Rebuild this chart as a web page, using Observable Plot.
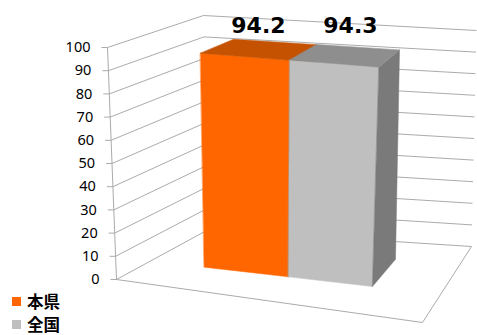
<!DOCTYPE html>
<html>
<head>
<meta charset="utf-8">
<script src="https://cdn.jsdelivr.net/npm/d3@7"></script>
<script src="https://cdn.jsdelivr.net/npm/@observablehq/plot@0.6"></script>
<style>
  html, body { margin: 0; padding: 0; background: #fff; overflow: hidden; }
  #chart { position: relative; width: 477px; height: 335px; overflow: hidden; }
  #chart svg { display: block; }
  .legend { position: absolute; left: 12px; top: 290px; font-family: "Noto Sans CJK JP", sans-serif; font-weight: bold; font-size: 16.5px; line-height: 23px; color: #000; }
  .legend .item { display: flex; align-items: center; height: 23px; }
  .legend .sw { width: 9px; height: 9px; margin-right: 6px; }
</style>
</head>
<body>
<div id="chart"></div>
<script>
// Series shown as side-by-side 3D columns
const series = ["本県", "全国"];
const values = [94.2, 94.3];
const frontColors = ["#FF6600", "#BFBFBF"];
const topColors = ["#C45200", "#8E8E8E"];
const sideColors = ["#A84600", "#7A7A7A"];
const yTicks = [0, 10, 20, 30, 40, 50, 60, 70, 80, 90, 100];
const yMax = 100;

const W = 477, H = 335;

// Screen corners of the plot box (walls + floor) used for the 3D view
const box = {
  flb: [116, 279], flt: [107, 47], frb: [422, 322], frt: [437, 76],
  blb: [208, 229], blt: [203, 15], brb: [471, 246], brt: [476, 30]
};
// Column placement inside the box: horizontal span and depth range
const colStart = 0.185, colWidth = 0.29, depthFront = 0.37, depthBack = 0.76;

const v = d3.scaleLinear([0, yMax], [0, 1]);
const lerp = (a, b, t) => [a[0] + (b[0] - a[0]) * t, a[1] + (b[1] - a[1]) * t];
// (u across, value, w depth) -> screen point
function project(u, val, w) {
  const fb = lerp(box.flb, box.frb, u), bb = lerp(box.blb, box.brb, u);
  const ft = lerp(box.flt, box.frt, u), bt = lerp(box.blt, box.brt, u);
  return lerp(lerp(fb, bb, w), lerp(ft, bt, w), v(val));
}

// Wall gridlines, floor edges and value axis
const lines = [];
for (const t of yTicks) {
  const a = project(0, t, 0), b = project(0, t, 1), c = project(1, t, 1);
  lines.push({x1: a[0], y1: a[1], x2: b[0], y2: b[1]});
  lines.push({x1: b[0], y1: b[1], x2: c[0], y2: c[1]});
}
for (const [p, q] of [[[0, 0, 0], [1, 0, 0]], [[1, 0, 0], [1, 0, 1]], [[0, 0, 0], [0, yMax, 0]]]) {
  const a = project(...p), b = project(...q);
  lines.push({x1: a[0], y1: a[1], x2: b[0], y2: b[1]});
}
const ticks = yTicks.map(t => { const p = project(0, t, 0); return {t, x: p[0], y: p[1]}; });

// Column faces as closed polygons
const faces = [];
values.forEach((val, i) => {
  const u0 = colStart + i * colWidth, u1 = u0 + colWidth;
  const poly = (name, fill, pts) => pts.forEach((p, k) => {
    const s = project(...p);
    faces.push({face: `${series[i]}-${name}`, fill, x: s[0], y: s[1], k});
  });
  poly("front", frontColors[i], [[u0, 0, depthFront], [u1, 0, depthFront], [u1, val, depthFront], [u0, val, depthFront]]);
  poly("side", sideColors[i], [[u1, 0, depthFront], [u1, 0, depthBack], [u1, val, depthBack], [u1, val, depthFront]]);
  poly("top", topColors[i], [[u0, val, depthFront], [u1, val, depthFront], [u1, val, depthBack], [u0, val, depthBack]]);
});

// Value labels sit on one common line above the tallest column front
const labelDepth = 0.2;
const labelPts = values.map((val, i) => project(colStart + (i + 0.5) * colWidth, val, labelDepth));
const labelY = d3.min(labelPts, p => p[1]);
const labels = values.map((val, i) => ({text: val.toFixed(1), x: labelPts[i][0], y: labelY}));

const chart = Plot.plot({
  width: W, height: H,
  margin: 0,
  x: {type: "identity", axis: null},
  y: {type: "identity", axis: null},
  color: {type: "identity"},
  marks: [
    Plot.link(lines, {x1: "x1", y1: "y1", x2: "x2", y2: "y2", stroke: "#ABABAB", strokeWidth: 1}),
    Plot.link(ticks, {x1: d => d.x - 6, x2: "x", y1: "y", y2: "y", stroke: "#ABABAB"}),
    Plot.text(ticks, {x: "x", y: "y", text: d => String(d.t), textAnchor: "end", dx: -17, fontSize: 14.5, fontFamily: "'Noto Sans', sans-serif", fill: "#000"}),
    Plot.line(faces, {x: "x", y: "y", z: "face", fill: "fill", stroke: "fill", strokeWidth: 0.5, curve: "linear-closed"}),
    Plot.text(labels, {x: "x", y: "y", text: "text", dx: 26.5, dy: -37.5, fontSize: 22, fontWeight: "bold", fontFamily: "'DejaVu Sans', sans-serif", fill: "#000"})
  ]
});

const host = document.getElementById("chart");
host.appendChild(chart);

const legend = document.createElement("div");
legend.className = "legend";
series.forEach((name, i) => {
  const item = document.createElement("div");
  item.className = "item";
  const sw = document.createElement("span");
  sw.className = "sw";
  sw.style.background = frontColors[i];
  item.appendChild(sw);
  item.appendChild(document.createTextNode(name));
  legend.appendChild(item);
});
host.appendChild(legend);
</script>
</body>
</html>
